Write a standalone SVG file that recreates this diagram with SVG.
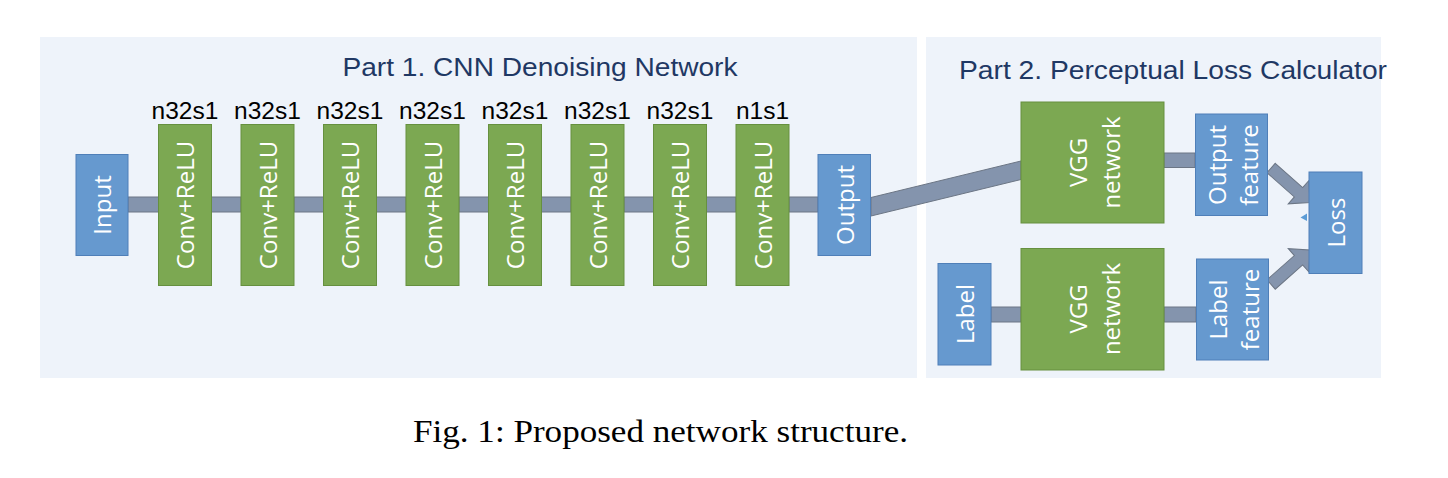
<svg xmlns="http://www.w3.org/2000/svg" width="1448" height="478" viewBox="0 0 1448 478">
<style>
.panel{fill:#eef3fa}
.blue{fill:#6699cf;stroke:#4f7fb8;stroke-width:1}
.green{fill:#7ca852;stroke:#66903f;stroke-width:1}
.bar{fill:#8494ad;stroke:#6c7685;stroke-width:1}
.wt{font-family:"Open Sans","Noto Sans",sans-serif;font-size:24px;fill:#ffffff;text-anchor:middle}
.lbl{font-family:"Liberation Sans",Arial,sans-serif;font-size:24.5px;fill:#000000;text-anchor:middle}
.title{font-family:"Liberation Sans",Arial,sans-serif;font-size:26.5px;fill:#1f3864}
.cap{font-family:"Liberation Serif","Times New Roman",serif;font-size:32px;fill:#000000}
</style>
<rect width="1448" height="478" fill="#ffffff"/>
<rect class="panel" x="40" y="37" width="877" height="341"/>
<rect class="panel" x="926" y="37" width="455" height="341"/>
<text class="title" x="342.5" y="76" textLength="395" lengthAdjust="spacingAndGlyphs">Part 1. CNN Denoising Network</text>
<text class="title" x="959" y="78.5" textLength="428" lengthAdjust="spacingAndGlyphs">Part 2. Perceptual Loss Calculator</text>

<g id="connectors">
<rect class="bar" x="128" y="197" width="30.5" height="15"/>
<rect class="bar" x="211.5" y="197" width="29.5" height="15"/>
<rect class="bar" x="294" y="197" width="29.5" height="15"/>
<rect class="bar" x="376.5" y="197" width="29.5" height="15"/>
<rect class="bar" x="459" y="197" width="29.5" height="15"/>
<rect class="bar" x="541.5" y="197" width="29.5" height="15"/>
<rect class="bar" x="624" y="197" width="29.5" height="15"/>
<rect class="bar" x="706.5" y="197" width="29.5" height="15"/>
<rect class="bar" x="789" y="197" width="29" height="15"/>
<polygon class="bar" points="871,197.5 1021,161 1021,179.5 871,216"/>
<rect class="bar" x="1164" y="153" width="31" height="14.5"/>
<rect class="bar" x="991" y="307" width="30" height="15"/>
<rect class="bar" x="1164" y="307" width="32" height="15"/>
<polygon class="bar" transform="translate(1271.1,168) rotate(41.5)" points="0,-6.25 36.6,-6.25 36.6,-15.5 52,0 36.6,15.5 36.6,6.25 0,6.25"/>
<polygon class="bar" transform="translate(1271.1,284.5) rotate(-41.5)" points="0,-6.25 36.6,-6.25 36.6,-15.5 52,0 36.6,15.5 36.6,6.25 0,6.25"/>
<polygon points="1300.5,217.5 1307,213.5 1307,221" fill="#5b9bd5"/>
</g>

<g id="input">
<rect class="blue" x="76" y="154.5" width="52" height="101"/>
<text class="wt" transform="translate(102,205) rotate(-90)" y="9">Input</text>
</g>

<g id="conv1">
<text class="lbl" x="185" y="119">n32s1</text>
<rect class="green" x="158.5" y="124.5" width="53" height="161"/>
<text class="wt" transform="translate(185,205) rotate(-90)" y="9">Conv+ReLU</text>
</g>
<g id="conv2">
<text class="lbl" x="267.5" y="119">n32s1</text>
<rect class="green" x="241" y="124.5" width="53" height="161"/>
<text class="wt" transform="translate(267.5,205) rotate(-90)" y="9">Conv+ReLU</text>
</g>
<g id="conv3">
<text class="lbl" x="350" y="119">n32s1</text>
<rect class="green" x="323.5" y="124.5" width="53" height="161"/>
<text class="wt" transform="translate(350,205) rotate(-90)" y="9">Conv+ReLU</text>
</g>
<g id="conv4">
<text class="lbl" x="432.5" y="119">n32s1</text>
<rect class="green" x="406" y="124.5" width="53" height="161"/>
<text class="wt" transform="translate(432.5,205) rotate(-90)" y="9">Conv+ReLU</text>
</g>
<g id="conv5">
<text class="lbl" x="515" y="119">n32s1</text>
<rect class="green" x="488.5" y="124.5" width="53" height="161"/>
<text class="wt" transform="translate(515,205) rotate(-90)" y="9">Conv+ReLU</text>
</g>
<g id="conv6">
<text class="lbl" x="597.5" y="119">n32s1</text>
<rect class="green" x="571" y="124.5" width="53" height="161"/>
<text class="wt" transform="translate(597.5,205) rotate(-90)" y="9">Conv+ReLU</text>
</g>
<g id="conv7">
<text class="lbl" x="680" y="119">n32s1</text>
<rect class="green" x="653.5" y="124.5" width="53" height="161"/>
<text class="wt" transform="translate(680,205) rotate(-90)" y="9">Conv+ReLU</text>
</g>
<g id="conv8">
<text class="lbl" x="762.5" y="119">n1s1</text>
<rect class="green" x="736" y="124.5" width="53" height="161"/>
<text class="wt" transform="translate(762.5,205) rotate(-90)" y="9">Conv+ReLU</text>
</g>

<g id="output">
<rect class="blue" x="818" y="154.5" width="52.5" height="101"/>
<text class="wt" transform="translate(844.5,205) rotate(-90)" y="9">Output</text>
</g>

<g id="vgg-top">
<rect class="green" x="1021" y="102" width="143" height="121"/>
<text class="wt" transform="translate(1092.5,162.5) rotate(-90)"><tspan x="0" y="-5.5">VGG</tspan><tspan x="0" y="27">network</tspan></text>
</g>
<g id="vgg-bottom">
<rect class="green" x="1021" y="248.5" width="143" height="121.5"/>
<text class="wt" transform="translate(1092.5,309) rotate(-90)"><tspan x="0" y="-5.5">VGG</tspan><tspan x="0" y="27">network</tspan></text>
</g>
<g id="label">
<rect class="blue" x="938" y="263.5" width="53" height="101.5"/>
<text class="wt" transform="translate(964.5,314) rotate(-90)" y="9">Label</text>
</g>
<g id="output-feature">
<rect class="blue" x="1195.5" y="114" width="72" height="101.5"/>
<text class="wt" transform="translate(1231.5,165) rotate(-90)"><tspan x="0" y="-6">Output</tspan><tspan x="0" y="26.5">feature</tspan></text>
</g>
<g id="label-feature">
<rect class="blue" x="1196.5" y="259" width="72" height="101"/>
<text class="wt" transform="translate(1232.5,309.5) rotate(-90)"><tspan x="0" y="-6">Label</tspan><tspan x="0" y="26.5">feature</tspan></text>
</g>
<g id="loss">
<rect class="blue" x="1309" y="172" width="53" height="101.5"/>
<text class="wt" transform="translate(1335.5,222.5) rotate(-90)" y="9">Loss</text>
</g>

<text class="cap" x="413" y="441.5" textLength="495" lengthAdjust="spacingAndGlyphs">Fig. 1: Proposed network structure.</text>
</svg>
